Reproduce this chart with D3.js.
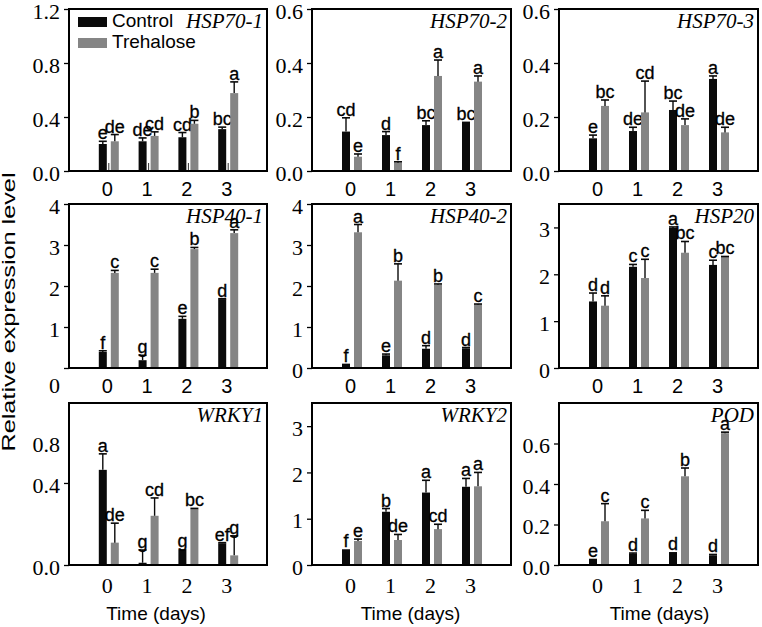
<!DOCTYPE html>
<html><head><meta charset="utf-8">
<script src="https://cdn.jsdelivr.net/npm/d3@7"></script>
<style>
body{margin:0;background:#fff;}
svg{display:block;}
</style></head>
<body><svg id="chart" width="762" height="627"></svg>
<script>
const days = ["0","1","2","3"];
const genes = ["HSP70-1","HSP70-2","HSP70-3","HSP40-1","HSP40-2","HSP20","WRKY1","WRKY2","POD"];
const seriesNames = ["Control","Trehalose"];

const controlMean = [
  [0.20,0.22,0.25,0.31],
  [0.146,0.133,0.17,0.183],
  [0.121,0.148,0.226,0.341],
  [0.39,0.19,1.20,1.68],
  [0.106,0.31,0.47,0.48],
  [1.42,2.16,2.99,2.20],
  [0.464,0.011,0.077,0.106],
  [0.34,1.15,1.565,1.69],
  [0.031,0.056,0.064,0.048]
];
const controlSE = [
  [0.02,0.025,0.035,0.015],
  [0.051,0.013,0.016,0],
  [0.012,0.014,0.033,0.011],
  [0.03,0.12,0.06,0.01],
  [0,0.03,0.075,0.02],
  [0.18,0.05,0.02,0.10],
  [0.078,0.062,0,0.003],
  [0,0.07,0.265,0.18],
  [0,0.003,0,0.004]
];
const trehaloseMean = [
  [0.22,0.26,0.35,0.577],
  [0.053,0.031,0.352,0.331],
  [0.241,0.217,0.17,0.143],
  [2.32,2.32,2.90,3.29],
  [3.31,2.13,2.03,1.545],
  [1.33,1.92,2.46,2.37],
  [0.109,0.24,0.273,0.047],
  [0.52,0.54,0.775,1.70],
  [0.216,0.23,0.438,0.651]
];
const trehaloseSE = [
  [0.05,0.03,0.025,0.083],
  [0.01,0.003,0.059,0.021],
  [0.022,0.116,0.023,0.019],
  [0.06,0.09,0.04,0.08],
  [0.19,0.41,0.02,0.015],
  [0.21,0.40,0.24,0.01],
  [0.095,0.087,0.003,0.095],
  [0.04,0.12,0.105,0.30],
  [0.087,0.04,0.041,0.005]
];
const controlLetters = [
  ["e","de","cd","bc"],["cd","d","bc","bc"],["e","de","bc","a"],
  ["f","g","e","d"],["f","e","d","d"],["d","c","a","c"],
  ["a","g","g","ef"],["f","b","a","a"],["e","d","d","d"]
];
const trehaloseLetters = [
  ["de","cd","b","a"],["e","f","a","a"],["bc","cd","de","de"],
  ["c","c","b","a"],["a","b","b","c"],["d","c","bc","bc"],
  ["de","cd","bc","g"],["e","de","cd","a"],["c","c","b","a"]
];
const yMax = [1.2,0.6,0.6,4,4,3.5,0.79,3.5,0.8];
const yTickValues = [
  [0,0.4,0.8,1.2],[0,0.2,0.4,0.6],[0,0.2,0.4,0.6],
  [0,1,2,3,4],[0,1,2,3,4],[0,1,2,3],
  [0,0.4,0.6],[0,1,2,3],[0,0.2,0.4,0.6]
];
const yTickLabels = [
  ["0.0","0.4","0.8","1.2"],["0.0","0.2","0.4","0.6"],["0.0","0.2","0.4","0.6"],
  ["0","1","2","3","4"],["0","1","2","3","4"],["0","1","2","3"],
  ["0.0","0.4","0.8"],["0","1","2","3"],["0.0","0.2","0.4","0.6"]
];

const SANS = "'Liberation Sans', Arial, sans-serif";
const SERIF = "'Liberation Serif', 'Times New Roman', serif";
const BLACK = "#0a0a0a", GRAY = "#858585";

const colLeft = [69, 312, 559];
const colWidth = [198, 199, 199];
const rowTop = [9, 204, 403];
const rowBottom = [171, 368, 565];

const svg = d3.select("#chart");

genes.forEach((gene, i) => {
  const r = Math.floor(i / 3), c = i % 3;
  const L = colLeft[c], W = colWidth[c], T = rowTop[r], B = rowBottom[r];
  const g = svg.append("g");
  const x = d3.scaleLinear().domain([-1, 4]).range([L, L + W + 1]);
  const y = d3.scaleLinear().domain([0, yMax[i]]).range([B, T]);

  // bars
  const bw = 8, off = 6;
  const series = [
    {mean: controlMean[i], se: controlSE[i], letters: controlLetters[i], color: BLACK, dx: -off},
    {mean: trehaloseMean[i], se: trehaloseSE[i], letters: trehaloseLetters[i], color: GRAY, dx: off}
  ];
  series.forEach(s => {
    days.forEach((d, k) => {
      const cx = x(k) + s.dx;
      const v = s.mean[k], e = s.se[k];
      g.append("rect")
        .attr("x", cx - bw / 2).attr("y", y(v))
        .attr("width", bw).attr("height", B - y(v))
        .attr("fill", s.color);
      if (e > 0) {
        g.append("line").attr("x1", cx).attr("x2", cx)
          .attr("y1", y(v)).attr("y2", y(v + e))
          .attr("stroke", BLACK).attr("stroke-width", 1.4);
        g.append("line").attr("x1", cx - bw / 2).attr("x2", cx + bw / 2)
          .attr("y1", y(v + e)).attr("y2", y(v + e))
          .attr("stroke", BLACK).attr("stroke-width", 1.6);
      }
      g.append("text")
        .attr("x", cx).attr("y", y(v + e) - 2)
        .attr("text-anchor", "middle")
        .attr("font-family", SANS).attr("font-size", 18)
        .attr("fill", "#000")
        .attr("stroke", "#000").attr("stroke-width", 0.3)
        .text(s.letters[k]);
    });
  });

  // inner category ticks (first panel only, as in reference)
  if (i === 0) {
    days.forEach((d, k) => {
      g.append("line").attr("x1", x(k)).attr("x2", x(k))
        .attr("y1", B).attr("y2", B - 8)
        .attr("stroke", "#333").attr("stroke-width", 1);
    });
  }

  // y axis
  const yAxis = d3.axisLeft(y)
    .tickValues(yTickValues[i])
    .tickFormat((d, j) => yTickLabels[i][j])
    .tickSize(5).tickPadding(4);
  const ya = g.append("g").attr("transform", `translate(${L},0)`).call(yAxis);
  ya.select(".domain").remove();
  ya.selectAll("line").attr("stroke", "#000").attr("stroke-width", 1.3);
  ya.selectAll("text").attr("font-family", SERIF).attr("font-size", 22).attr("fill", "#000").attr("dy", "0.42em");
  if (i === 6) ya.selectAll(".tick").filter(d => d === 0.6).select("line").remove();
  if (i === 3) ya.selectAll(".tick").filter(d => d === 0).select("text").attr("dy", "1.1em");

  // x axis labels
  const xAxis = d3.axisBottom(x).tickValues([0,1,2,3]).tickFormat((d) => days[d]).tickSize(0).tickPadding(r === 2 ? 12 : 11);
  const xa = g.append("g").attr("transform", `translate(-2,${B})`).call(xAxis);
  xa.select(".domain").remove();
  xa.selectAll("text")
    .attr("font-family", r === 2 ? SERIF : SANS)
    .attr("font-size", r === 2 ? 22 : 20)
    .attr("fill", "#000");

  // frame
  g.append("rect").attr("x", L).attr("y", T).attr("width", W).attr("height", B - T)
    .attr("fill", "none").attr("stroke", "#000").attr("stroke-width", 2);

  // gene label
  g.append("text")
    .attr("x", L + W - 4).attr("y", T + 19)
    .attr("text-anchor", "end")
    .attr("font-family", SERIF).attr("font-style", "italic").attr("font-size", 21)
    .attr("fill", "#000")
    .text(gene);

  // legend in first panel
  if (i === 0) {
    const lg = [{name: seriesNames[0], color: BLACK, y: 17}, {name: seriesNames[1], color: GRAY, y: 38}];
    lg.forEach(l => {
      g.append("rect").attr("x", 78).attr("y", l.y).attr("width", 29).attr("height", 10).attr("fill", l.color);
      g.append("text").attr("x", 112).attr("y", l.y + 10)
        .attr("font-family", SANS).attr("font-size", 19).attr("fill", "#000").text(l.name);
    });
  }

  // x titles bottom row
  if (r === 2) {
    const shift = [-12, -1, 1][c];
    g.append("text").attr("x", L + W / 2 + shift).attr("y", 620)
      .attr("text-anchor", "middle")
      .attr("font-family", SANS).attr("font-size", 19).attr("fill", "#000")
      .text("Time (days)");
  }
});

// y title
svg.append("text")
  .attr("transform", "translate(15,312) rotate(-90)")
  .attr("text-anchor", "middle")
  .attr("font-family", SANS).attr("font-size", 19)
  .attr("textLength", 279).attr("lengthAdjust", "spacingAndGlyphs")
  .attr("fill", "#000")
  .text("Relative expression level");
</script>
</body></html>
